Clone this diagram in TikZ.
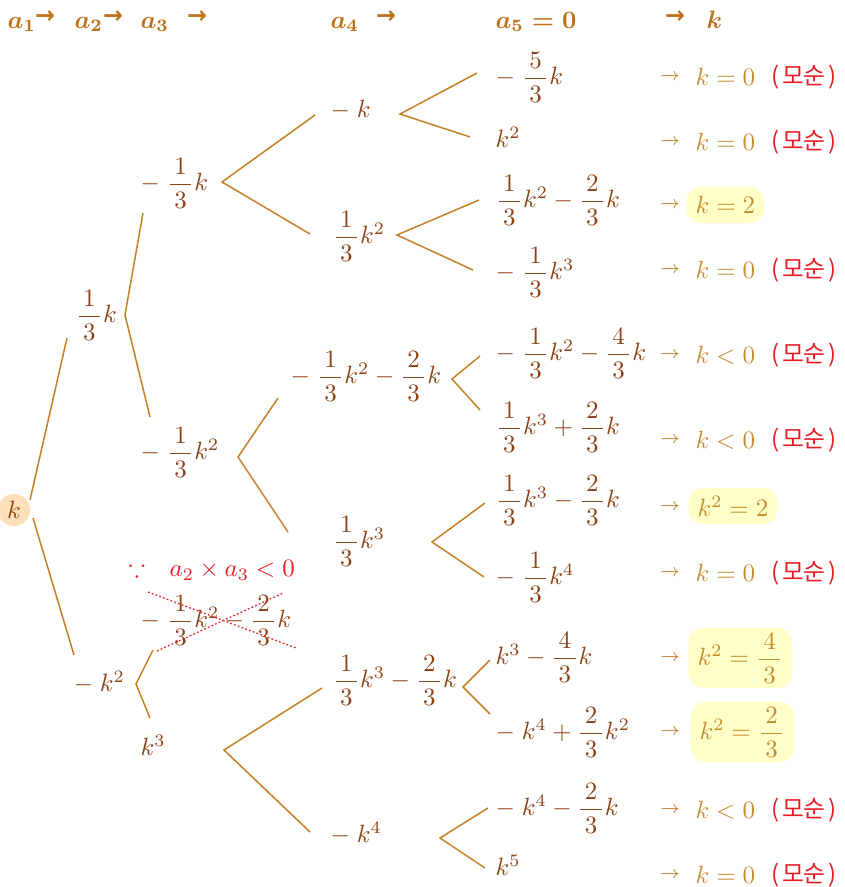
\documentclass[tikz,border=0pt]{standalone}
\usepackage{amsmath,amssymb}
\usepackage{fontspec}
\newfontfamily\kr{Noto Sans CJK KR}
\newfontfamily\djv{DejaVu Sans}
\newcommand\fr[2]{\dfrac{\hspace{1.8pt}#1\hspace{1.8pt}}{\hspace{1.8pt}#2\hspace{1.8pt}}}
\newcommand\lm{-\;}
\definecolor{treebrown}{RGB}{139,66,22}
\definecolor{linec}{RGB}{196,128,36}
\definecolor{headc}{RGB}{188,112,24}
\definecolor{resgold}{RGB}{196,140,48}
\definecolor{arrowc}{RGB}{190,118,30}
\definecolor{redc}{RGB}{232,28,36}
\definecolor{hlyellow}{RGB}{255,255,200}
\definecolor{rootfill}{RGB}{252,224,186}
\tikzset{
  tx/.style={text=treebrown, inner sep=0pt, anchor=west},
  resbox/.style={text=resgold, anchor=west, inner xsep=3.6pt, inner ysep=2pt, minimum height=14.5pt, rounded corners=6pt},
  hlbox/.style={resbox, fill=hlyellow},
  kotext/.style={text=redc, anchor=west, inner sep=0pt, font=\kr\fontsize{9.5}{10}\selectfont},
  resarrow/.style={text=arrowc, inner sep=0pt, font=\fontsize{7}{8}\selectfont},
  headtx/.style={text=headc, inner sep=0pt, anchor=base west, font=\boldmath},
  headarrow/.style={text=headc, inner sep=0pt, font=\djv\bfseries\fontsize{9.5}{10}\selectfont},
  ln/.style={draw=linec, line width=0.6pt},
  cross/.style={draw=redc, line width=0.5pt, dash pattern=on 0.7pt off 0.9pt}
}
\begin{document}
\begin{tikzpicture}[x=0.4pt,y=-0.4pt]
\useasboundingbox (0,0) rectangle (845,887);
% header
\node[headtx] (h1) at (7,28) {$a_1$};
\node[headarrow] (ha1) at (45,17) {→};
\node[headtx] (h2) at (74,28) {$a_2$};
\node[headarrow] (ha2) at (113,17) {→};
\node[headtx] (h3) at (140,28) {$a_3$};
\node[headarrow] (ha3) at (197,17) {→};
\node[headtx] (h4) at (330,28) {$a_4$};
\node[headarrow] (ha4) at (386,17) {→};
\node[headtx] (h5) at (495,28) {$a_5=0$};
\node[headarrow] (ha5) at (675,17) {→};
\node[headtx] (h6) at (706,28) {$k$};

% root
\node[circle, fill=rootfill, text=treebrown, inner sep=1pt, minimum size=12.8pt] (root) at (14,510) {$k$};
% level 2
\node[tx] (n1) at (75,315) {$\fr{1}{3}k$};
\node[tx] (n2) at (73,682) {$\lm k^2$};
% level 3
\node[tx] (n11) at (140,183) {$\lm\fr{1}{3}k$};
\node[tx] (n12) at (140,452) {$\lm\fr{1}{3}k^2$};
\node[text=redc, inner sep=0pt, anchor=west] (why) at (128,570) {$\because\hspace{7pt}a_2\times a_3<0$};
\node[tx] (n21) at (140,620) {$\lm\fr{1}{3}k^2-\fr{2}{3}k$};
\node[tx] (n22) at (140,745) {$k^3$};
% level 4
\node[tx] (n111) at (330,110) {$\lm k$};
\node[tx] (n112) at (332,236) {$\fr{1}{3}k^2$};
\node[tx] (n121) at (290,376) {$\lm\fr{1}{3}k^2-\fr{2}{3}k$};
\node[tx] (n122) at (332,541) {$\fr{1}{3}k^3$};
\node[tx] (n221) at (332,680) {$\fr{1}{3}k^3-\fr{2}{3}k$};
\node[tx] (n222) at (330,833) {$\lm k^4$};
% level 5
\node[tx] (f1) at (495,77) {$\lm\fr{5}{3}k$};
\node[tx] (f2) at (495,137) {$k^2$};
\node[tx] (f3) at (495,200) {$\fr{1}{3}k^2-\fr{2}{3}k$};
\node[tx] (f4) at (495,272) {$\lm\fr{1}{3}k^3$};
\node[tx] (f5) at (495,353) {$\lm\fr{1}{3}k^2-\fr{4}{3}k$};
\node[tx] (f6) at (495,427) {$\fr{1}{3}k^3+\fr{2}{3}k$};
\node[tx] (f7) at (495,500) {$\fr{1}{3}k^3-\fr{2}{3}k$};
\node[tx] (f8) at (495,577) {$\lm\fr{1}{3}k^4$};
\node[tx] (f9) at (495,657) {$k^3-\fr{4}{3}k$};
\node[tx] (f10) at (495,732) {$\lm k^4+\fr{2}{3}k^2$};
\node[tx] (f11) at (495,808) {$\lm k^4-\fr{2}{3}k$};
\node[tx] (f12) at (495,865) {$k^5$};

% results
\foreach \y/\nm in {77/1,142/2,205/3,270/4,355/5,440/6,507/7,573/8,658/9,732/10,810/11,875/12}
  \node[resarrow] (ra\nm) at (670,\y) {$\rightarrow$};
\node[resbox] (r1) at (686,77) {$k=0$};
\node[resbox] (r2) at (686,142) {$k=0$};
\node[hlbox] (r3) at (686,205) {$k=2$};
\node[resbox] (r4) at (686,270) {$k=0$};
\node[resbox] (r5) at (686,355) {$k<0$};
\node[resbox] (r6) at (686,440) {$k<0$};
\node[hlbox] (r7) at (688,506) {$k^2=2$};
\node[resbox] (r8) at (686,573) {$k=0$};
\node[hlbox] (r9) at (688,658) {$k^2=\fr{4}{3}$};
\node[hlbox] (r10) at (690,732) {$k^2=\fr{2}{3}$};
\node[resbox] (r11) at (686,810) {$k<0$};
\node[resbox] (r12) at (686,875) {$k=0$};
\foreach \y/\nm in {77/1,142/2,270/4,355/5,440/6,573/8,810/11,875/12}
  \node[kotext] (ko\nm) at (771,\y) {(\hspace{1pt}모순\hspace{1pt})};

% connector coordinates
\coordinate (root-up) at (30,500);   \coordinate (n1-in) at (67,338);
\coordinate (root-dn) at (33,518);   \coordinate (n2-in) at (74,655);
\coordinate (n1-v) at (125,315);  \coordinate (n11-in) at (143,213); \coordinate (n12-in) at (150,417);
\coordinate (n11-v) at (222,182); \coordinate (n111-in) at (315,115); \coordinate (n112-in) at (310,234);
\coordinate (n12-v) at (238,457); \coordinate (n121-in) at (278,398); \coordinate (n122-in) at (288,532);
\coordinate (n2-v) at (136,684);  \coordinate (n21-in) at (153,650); \coordinate (n22-in) at (150,718);
\coordinate (n22-v) at (224,750); \coordinate (n221-in) at (322,688); \coordinate (n222-in) at (310,832);
\coordinate (n111-v) at (400,114); \coordinate (f1-in) at (477,73);  \coordinate (f2-in) at (470,137);
\coordinate (n112-v) at (397,235); \coordinate (f3-in) at (479,200); \coordinate (f4-in) at (473,270);
\coordinate (n121-v) at (452,379); \coordinate (f5-in) at (480,356); \coordinate (f6-in) at (480,410);
\coordinate (n122-v) at (432,542); \coordinate (f7-in) at (485,503); \coordinate (f8-in) at (484,577);
\coordinate (n221-v) at (463,687); \coordinate (f9-in) at (490,660); \coordinate (f10-in) at (490,714);
\coordinate (n222-v) at (440,838); \coordinate (f11-in) at (488,808); \coordinate (f12-in) at (485,868);

\draw[ln] (root-up) -- (n1-in);
\draw[ln] (root-dn) -- (n2-in);
\foreach \v/\a/\b in {n1-v/n11-in/n12-in, n11-v/n111-in/n112-in, n12-v/n121-in/n122-in,
  n2-v/n21-in/n22-in, n22-v/n221-in/n222-in, n111-v/f1-in/f2-in, n112-v/f3-in/f4-in,
  n121-v/f5-in/f6-in, n122-v/f7-in/f8-in, n221-v/f9-in/f10-in, n222-v/f11-in/f12-in}
  \draw[ln] (\a) -- (\v) -- (\b);

% crossing out
\coordinate (x1a) at (148,592); \coordinate (x1b) at (296,648);
\coordinate (x2a) at (157,651); \coordinate (x2b) at (283,593);
\draw[cross] (x1a) -- (x1b);
\draw[cross] (x2a) -- (x2b);
\end{tikzpicture}
\end{document}
